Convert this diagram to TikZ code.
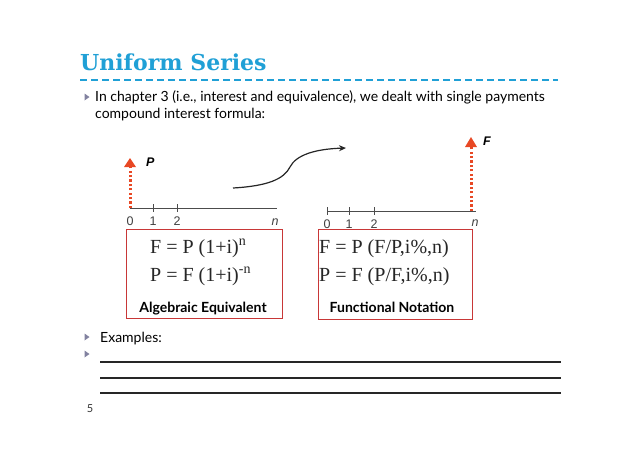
\documentclass[tikz,border=0pt]{standalone}
\usepackage{fontspec}
\setmainfont{Liberation Serif}
\setsansfont{Lato}
\newfontfamily\titlefont{DejaVu Serif}
\newfontfamily\arialfont{Liberation Sans}
\usetikzlibrary{arrows.meta}
\definecolor{titlecyan}{RGB}{32,160,214}
\definecolor{boxred}{RGB}{200,55,55}
\definecolor{arrred}{RGB}{232,72,36}
\definecolor{bulletgray}{RGB}{130,130,160}
\tikzset{
  bodytext/.style={font=\sffamily\fontsize{14}{16}\selectfont, anchor=base west, inner sep=0pt},
  axisline/.style={draw=black!70, line width=0.7pt},
  ticklbl/.style={font=\arialfont\fontsize{12.5}{14}\selectfont, text=black!75, anchor=base, inner sep=0pt},
  cashflow/.style={draw=arrred, line width=3pt, dash pattern=on 2.3pt off 2.1pt},
  cashhead/.style={fill=arrred, draw=none},
  flowlbl/.style={font=\arialfont\bfseries\itshape\fontsize{12.5}{14}\selectfont, anchor=base west, inner sep=0pt},
  fbox/.style={draw=boxred, line width=1pt},
  formula/.style={font=\fontsize{20}{22}\selectfont, anchor=base west, inner sep=0pt, text=black!85},
  boxlbl/.style={font=\sffamily\bfseries\fontsize{14}{16}\selectfont, anchor=base, inner sep=0pt},
  ruleline/.style={draw=black!85, line width=1.2pt}
}
\newcommand{\bulletat}[2]{\fill[bulletgray] (#1-2.5,#2-3.5) -- (#1+2.5,#2) -- (#1-2.5,#2+3.5) -- cycle;}
\begin{document}
\begin{tikzpicture}[x=1pt,y=-1pt]
\useasboundingbox (0,0) rectangle (638,451);
\fill[white] (0,0) rectangle (638,451);
% title
\node[font=\titlefont\bfseries\fontsize{22}{24}\selectfont, text=titlecyan, anchor=base west, inner sep=0pt] (title) at (80,70) {Uniform Series};
\coordinate (dl) at (80,80);
\coordinate (dr) at (558,80);
\draw[draw=titlecyan, line width=1.6pt, dash pattern=on 7pt off 4pt] (dl) -- (dr);
% bullet text
\bulletat{87}{97}
\node[bodytext] (l1) at (95,101) {In chapter 3 (i.e., interest and equivalence), we dealt with single payments};
\node[bodytext] (l2) at (95,118) {compound interest formula:};
% left diagram
\coordinate (a0) at (130,208);
\coordinate (an) at (277,208);
\draw[axisline] (a0) -- (an);
\foreach \x in {153,177}{ \draw[axisline] (\x,204) -- (\x,212); }
\draw[cashflow] (a0) -- (130,167);
\coordinate (ptip) at (130,158);
\fill[cashhead] (ptip) -- (136,167) -- (124,167) -- cycle;
\node[flowlbl] (plbl) at (146,166) {P};
\node[ticklbl] (z0) at (130,225) {0};
\node[ticklbl] (z1) at (153,225) {1};
\node[ticklbl] (z2) at (177,225) {2};
\node[ticklbl, font=\arialfont\itshape\fontsize{12.5}{14}\selectfont] (zn) at (275,225) {n};
% curve
\coordinate (cs) at (233,188);
\coordinate (ce) at (346,148);
\draw[line width=1.2pt, black!85, -{Stealth[length=7pt,width=6pt]}] (cs) .. controls (268,186) and (284,179) .. (290,167) .. controls (296,155) and (315,149) .. (ce);
% right diagram
\coordinate (b0) at (327,211);
\coordinate (bn) at (476,211);
\draw[axisline] (b0) -- (bn);
\foreach \x in {327,349,374}{ \draw[axisline] (\x,207) -- (\x,215); }
\draw[cashflow] (471,211) -- (471,147);
\fill[cashhead] (471,137) -- (477,147) -- (465,147) -- cycle;
\node[flowlbl] (flbl) at (483,145) {F};
\node[ticklbl] (y0) at (327,228) {0};
\node[ticklbl] (y1) at (349,228) {1};
\node[ticklbl] (y2) at (374,228) {2};
\node[ticklbl, font=\arialfont\itshape\fontsize{12.5}{14}\selectfont] (yn) at (475,226) {n};
% boxes
\draw[fbox] (126,229) rectangle (282,318);
\draw[fbox] (318,229) rectangle (472,319);
\node[formula] (f1) at (150,253) {F = P (1+i)\textsuperscript{n}};
\node[formula] (f2) at (150,281) {P = F (1+i)\textsuperscript{-n}};
\node[boxlbl] (alg) at (203,312) {Algebraic Equivalent};
\node[formula] (f3) at (319,253) {F = P (F/P,i\%,n)};
\node[formula] (f4) at (319,281) {P = F (P/F,i\%,n)};
\node[boxlbl] (fun) at (392,312) {Functional Notation};
% examples
\bulletat{87}{337}
\node[bodytext] (ex) at (100,342) {Examples:};
\bulletat{87}{354}
\coordinate (r1l) at (100,362); \coordinate (r1r) at (561,362);
\coordinate (r2l) at (100,378); \coordinate (r2r) at (561,378);
\coordinate (r3l) at (100,393); \coordinate (r3r) at (561,393);
\draw[ruleline] (r1l) -- (r1r);
\draw[ruleline] (r2l) -- (r2r);
\draw[ruleline] (r3l) -- (r3r);
\node[font=\sffamily\fontsize{11}{12}\selectfont, anchor=base, inner sep=0pt, text=black!80] (pg) at (90,412) {5};
\end{tikzpicture}
\end{document}
